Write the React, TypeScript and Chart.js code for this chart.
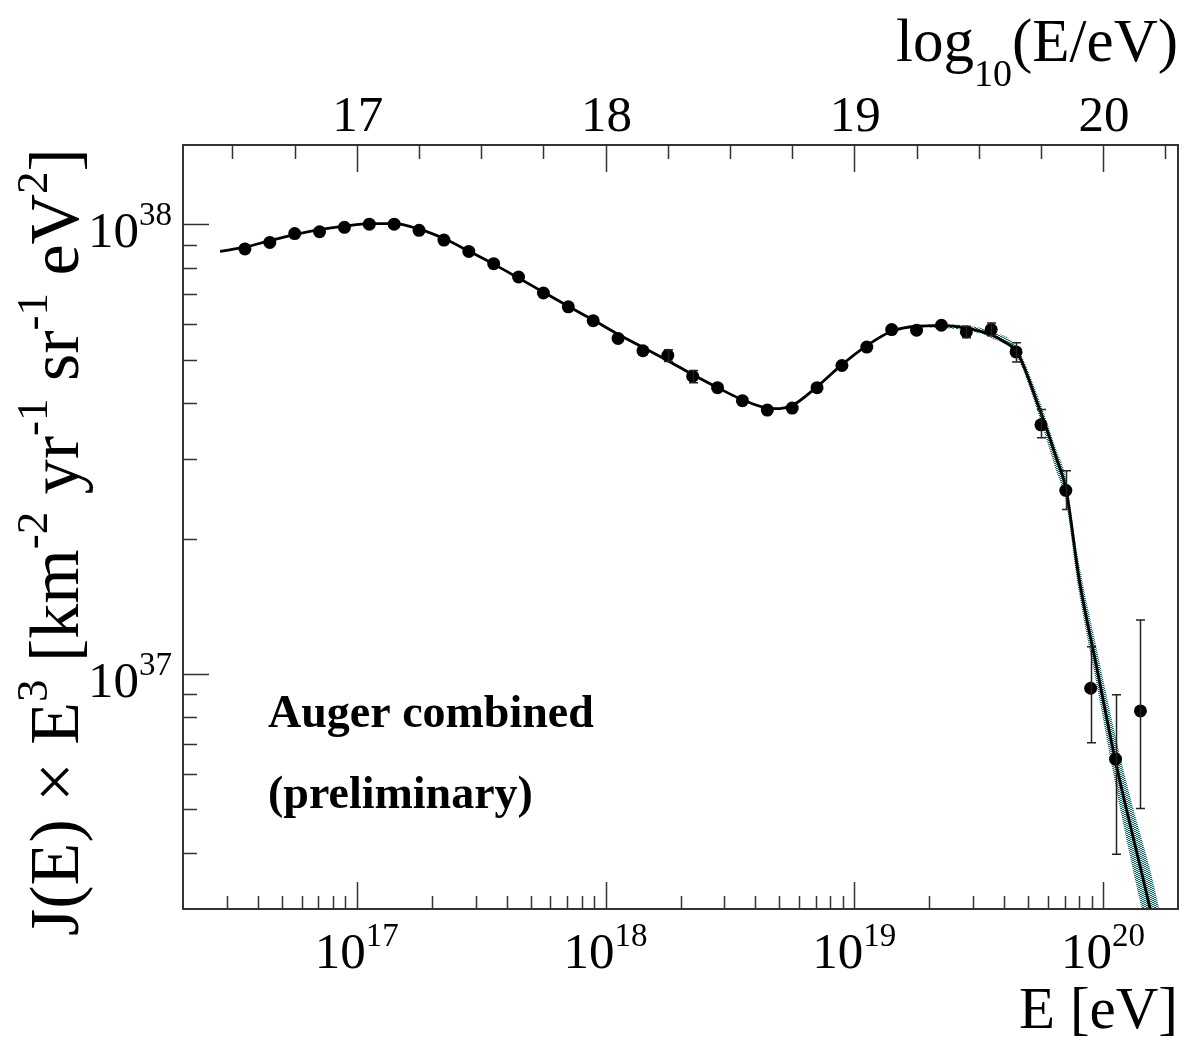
import React, { useEffect, useRef } from "react";
import { Chart, registerables } from "chart.js";

Chart.register(...registerables);

const W = 1189;
const H = 1037;

// ---------------- data ----------------
const binLogE = [
  16.55, 16.65, 16.75, 16.85, 16.95, 17.05, 17.15, 17.25, 17.35, 17.45,
  17.55, 17.65, 17.75, 17.85, 17.95, 18.05, 18.15, 18.25, 18.35, 18.45,
  18.55, 18.65, 18.75, 18.85, 18.95, 19.05, 19.15, 19.25, 19.35, 19.45,
  19.55, 19.65, 19.75, 19.85, 19.95, 20.05, 20.15,
];
const fluxE3 = [
  8.81e37, 9.11e37, 9.53e37, 9.62e37, 9.84e37, 1.0e38, 1.0e38, 9.69e37, 9.22e37, 8.7e37,
  8.17e37, 7.63e37, 7.03e37, 6.55e37, 6.1e37, 5.57e37, 5.23e37, 5.11e37, 4.59e37, 4.33e37,
  4.05e37, 3.86e37, 3.9e37, 4.33e37, 4.85e37, 5.33e37, 5.83e37, 5.81e37, 5.96e37, 5.76e37,
  5.83e37, 5.2e37, 3.58e37, 2.56e37, 9.29e36, 6.46e36, 8.27e36,
];
const errHigh = [
  null, null, null, null, null, null, null, null, null, null,
  null, null, null, null, null, null, null, 5.26e37, 4.73e37, null,
  null, null, null, null, null, null, null, null, null, 5.93e37,
  6.03e37, 5.45e37, 3.87e37, 2.83e37, 1.149e37, 8.99e36, 1.317e37,
];
const errLow = [
  null, null, null, null, null, null, null, null, null, null,
  null, null, null, null, null, null, null, 4.95e37, 4.44e37, null,
  null, null, null, null, null, null, null, null, null, 5.59e37,
  5.65e37, 4.94e37, 3.35e37, 2.32e37, 7.03e36, 3.97e36, 5.02e36,
];

const fitLogE = [
  16.45, 16.55, 16.65, 16.75, 16.85, 16.95, 17.05, 17.15, 17.25, 17.35,
  17.45, 17.55, 17.65, 17.75, 17.85, 17.95, 18.05, 18.15, 18.25, 18.35,
  18.45, 18.55, 18.65, 18.7, 18.75, 18.85, 18.95, 19.05, 19.15, 19.25,
  19.35, 19.45, 19.505, 19.55, 19.6, 19.653, 19.74, 19.814, 19.851, 19.904,
  19.976, 20.048, 20.189, 20.25,
];
const fitFlux = [
  8.7e37, 8.89e37, 9.19e37, 9.48e37, 9.72e37, 9.9e37, 1.003e38, 1.003e38, 9.75e37, 9.29e37,
  8.71e37, 8.15e37, 7.59e37, 7.06e37, 6.57e37, 6.12e37, 5.69e37, 5.32e37, 4.97e37, 4.63e37,
  4.33e37, 4.07e37, 3.9e37, 3.89e37, 3.95e37, 4.35e37, 4.87e37, 5.37e37, 5.78e37, 5.93e37,
  5.95e37, 5.88e37, 5.78e37, 5.68e37, 5.48e37, 5.21e37, 3.94e37, 3.0e37, 2.57e37, 1.62e37,
  1.023e37, 6.46e36, 3.0e36, 2.1e36,
];

const bandLogE = [19.3, 19.45, 19.55, 19.65, 19.74, 19.81, 19.85, 19.9, 19.98, 20.05, 20.12, 20.19, 20.25];
const bandUpper = [6.0e37, 5.95e37, 5.77e37, 5.35e37, 4.11e37, 3.17e37, 2.73e37, 1.8e37, 1.1e37, 7.27e36, 5.05e36, 3.65e36, 2.61e36];
const bandLower = [5.9e37, 5.81e37, 5.59e37, 5.11e37, 3.78e37, 2.84e37, 2.42e37, 1.55e37, 9.08e36, 5.64e36, 3.66e36, 2.47e36, 1.69e36];

const bottomDecades = [16, 17, 18, 19, 20];
const bottomLabelExps = ["17", "18", "19", "20"];
const leftDecades = [36, 37, 38];
const leftLabelExps = ["37", "38"];
const topLabels = ["17", "18", "19", "20"];

const X_MIN = 2e16;
const X_MAX = 2e20;
const Y_MIN = 3e36;
const Y_MAX = 1.5e38;

const SERIF = "'Liberation Serif', 'DejaVu Serif', serif";

type Seg = { t: string; size: number; dy?: number; bold?: boolean };

function segWidth(ctx: CanvasRenderingContext2D, s: Seg) {
  ctx.font = `${s.bold ? "bold " : ""}${s.size}px ${SERIF}`;
  return ctx.measureText(s.t).width;
}

function drawRich(
  ctx: CanvasRenderingContext2D,
  segs: Seg[],
  x: number,
  y: number,
  align: "left" | "center" | "right"
) {
  const widths = segs.map((s) => segWidth(ctx, s));
  const total = widths.reduce((a, b) => a + b, 0);
  let cx = align === "left" ? x : align === "center" ? x - total / 2 : x - total;
  ctx.textAlign = "left";
  ctx.textBaseline = "alphabetic";
  segs.forEach((s, i) => {
    ctx.font = `${s.bold ? "bold " : ""}${s.size}px ${SERIF}`;
    ctx.fillText(s.t, cx, y + (s.dy || 0));
    cx += widths[i];
  });
}

const rootAxes = {
  id: "rootAxes",
  afterDraw(chart: any) {
    const { ctx, chartArea: a, scales } = chart;
    const xs = scales.x;
    const ys = scales.y;
    const xt = scales.xTop;
    ctx.save();
    ctx.fillStyle = "#000";
    ctx.strokeStyle = "#333";

    // ticks
    ctx.lineWidth = 1.5;
    ctx.beginPath();
    for (const d of bottomDecades) {
      for (let m = 1; m <= 9; m++) {
        const v = m * Math.pow(10, d);
        if (v <= X_MIN * 1.0001 || v >= X_MAX * 0.9999) continue;
        const px = Math.round(xs.getPixelForValue(v)) + 0.5;
        const len = m === 1 ? 27 : 13;
        ctx.moveTo(px, a.bottom);
        ctx.lineTo(px, a.bottom - len);
      }
    }
    for (const d of leftDecades) {
      for (let m = 1; m <= 9; m++) {
        const v = m * Math.pow(10, d);
        if (v <= Y_MIN * 1.0001 || v >= Y_MAX * 0.9999) continue;
        const py = Math.round(ys.getPixelForValue(v)) + 0.5;
        const len = m === 1 ? 26 : 14;
        ctx.moveTo(a.left, py);
        ctx.lineTo(a.left + len, py);
      }
    }
    for (let t = 16.5; t <= 20.26; t += 0.25) {
      const px = Math.round(xt.getPixelForValue(t)) + 0.5;
      const major = Math.abs(t - Math.round(t)) < 1e-6;
      const len = major ? 27 : 14;
      ctx.moveTo(px, a.top);
      ctx.lineTo(px, a.top + len);
    }
    ctx.stroke();

    // frame
    ctx.lineWidth = 2;
    ctx.strokeRect(a.left, a.top, a.right - a.left, a.bottom - a.top);

    // bottom labels
    for (const e of bottomLabelExps) {
      const px = xs.getPixelForValue(Math.pow(10, Number(e)));
      drawRich(
        ctx,
        [
          { t: "10", size: 51 },
          { t: e, size: 33, dy: -22 },
        ],
        px,
        a.bottom + 59,
        "center"
      );
    }
    // left labels
    for (const e of leftLabelExps) {
      const py = ys.getPixelForValue(Math.pow(10, Number(e)));
      drawRich(
        ctx,
        [
          { t: "10", size: 51 },
          { t: e, size: 33, dy: -22 },
        ],
        a.left - 11,
        py + 23,
        "right"
      );
    }
    // top labels
    ctx.font = `51px ${SERIF}`;
    ctx.textAlign = "center";
    ctx.textBaseline = "alphabetic";
    for (const l of topLabels) {
      const px = xt.getPixelForValue(Number(l));
      ctx.fillText(l, px + 1, 131);
    }
    // top title
    drawRich(
      ctx,
      [
        { t: "log", size: 61 },
        { t: "10", size: 38, dy: 25 },
        { t: "(E/eV)", size: 61 },
      ],
      a.right,
      61,
      "right"
    );
    // bottom title
    drawRich(ctx, [{ t: "E [eV]", size: 59 }], a.right, 1028, "right");

    // y title
    ctx.save();
    ctx.translate(78, 542);
    ctx.rotate(-Math.PI / 2);
    const F = 70;
    const S = 45;
    const up = -31;
    drawRich(
      ctx,
      [
        { t: "J(E) × E", size: F },
        { t: "3", size: S, dy: up },
        { t: " [km", size: F },
        { t: "-2", size: S, dy: up },
        { t: " yr", size: F },
        { t: "-1", size: S, dy: up },
        { t: " sr", size: F },
        { t: "-1", size: S, dy: up },
        { t: " eV", size: F },
        { t: "2", size: S, dy: up },
        { t: "]", size: F },
      ],
      0,
      0,
      "center"
    );
    ctx.restore();

    // annotation
    drawRich(ctx, [{ t: "Auger combined", size: 46, bold: true }], 268, 727, "left");
    drawRich(ctx, [{ t: "(preliminary)", size: 46, bold: true }], 268, 808, "left");

    ctx.restore();
  },
};

const errorBars = {
  id: "errorBars",
  afterDatasetsDraw(chart: any) {
    const { ctx, scales, chartArea: a } = chart;
    ctx.save();
    ctx.beginPath();
    ctx.rect(a.left, a.top, a.right - a.left, a.bottom - a.top);
    ctx.clip();
    ctx.strokeStyle = "#222";
    ctx.lineWidth = 1.5;
    ctx.beginPath();
    binLogE.forEach((le, i) => {
      const hi = errHigh[i];
      const lo = errLow[i];
      if (hi == null || lo == null) return;
      const px = Math.round(scales.x.getPixelForValue(Math.pow(10, le))) + 0.5;
      const y1 = scales.y.getPixelForValue(hi);
      const y2 = scales.y.getPixelForValue(lo);
      ctx.moveTo(px, y1);
      ctx.lineTo(px, y2);
      ctx.moveTo(px - 4.5, y1);
      ctx.lineTo(px + 4.5, y1);
      ctx.moveTo(px - 4.5, y2);
      ctx.lineTo(px + 4.5, y2);
    });
    ctx.stroke();
    ctx.restore();
  },
};

export default function App() {
  const ref = useRef<HTMLCanvasElement | null>(null);

  useEffect(() => {
    const canvas = ref.current;
    if (!canvas) return;

    const pc = document.createElement("canvas");
    pc.width = 4;
    pc.height = 4;
    const pctx = pc.getContext("2d")!;
    pctx.fillStyle = "rgba(190,225,225,0.6)";
    pctx.fillRect(0, 0, 4, 4);
    pctx.fillStyle = "rgba(35,100,100,1)";
    pctx.fillRect(0, 0, 1, 1);
    pctx.fillRect(1, 0, 1, 1);
    pctx.fillRect(2, 1, 1, 1);
    pctx.fillRect(3, 1, 1, 1);
    pctx.fillRect(0, 2, 1, 1);
    pctx.fillRect(1, 2, 1, 1);
    pctx.fillRect(2, 3, 1, 1);
    pctx.fillRect(3, 3, 1, 1);
    const ctx2 = canvas.getContext("2d")!;
    const pattern = ctx2.createPattern(pc, "repeat") || "rgba(40,110,110,0.6)";

    const points = binLogE.map((le, i) => ({ x: Math.pow(10, le), y: fluxE3[i] }));
    const fit = fitLogE.map((le, i) => ({ x: Math.pow(10, le), y: fitFlux[i] }));
    const up = bandLogE.map((le, i) => ({ x: Math.pow(10, le), y: bandUpper[i] }));
    const lo = bandLogE.map((le, i) => ({ x: Math.pow(10, le), y: bandLower[i] }));

    const chart = new Chart(canvas, {
      type: "scatter",
      data: {
        datasets: [
          {
            type: "scatter",
            label: "Auger combined",
            data: points,
            pointRadius: 6.5,
            pointBackgroundColor: "#000",
            pointBorderColor: "#000",
            pointBorderWidth: 0,
            showLine: false,
          } as any,
          {
            type: "line",
            label: "fit",
            data: fit,
            borderColor: "#000",
            borderWidth: 2.8,
            pointRadius: 0,
            cubicInterpolationMode: "monotone",
            fill: false,
          } as any,
          {
            type: "line",
            label: "band upper",
            data: up,
            borderWidth: 0,
            borderColor: "rgba(0,0,0,0)",
            pointRadius: 0,
            cubicInterpolationMode: "monotone",
            fill: "+1",
            backgroundColor: pattern,
          } as any,
          {
            type: "line",
            label: "band lower",
            data: lo,
            borderWidth: 0,
            borderColor: "rgba(0,0,0,0)",
            pointRadius: 0,
            cubicInterpolationMode: "monotone",
            fill: false,
          } as any,
        ],
      },
      options: {
        responsive: false,
        animation: false,
        devicePixelRatio: 1,
        layout: { padding: { left: 183, top: 145, right: 11, bottom: 128 } },
        plugins: { legend: { display: false }, tooltip: { enabled: false } },
        scales: {
          x: { type: "logarithmic", min: X_MIN, max: X_MAX, display: false },
          y: { type: "logarithmic", min: Y_MIN, max: Y_MAX, display: false },
          xTop: {
            type: "linear",
            position: "top",
            min: Math.log10(X_MIN),
            max: Math.log10(X_MAX),
            display: false,
          },
        },
      } as any,
      plugins: [errorBars, rootAxes],
    });

    return () => chart.destroy();
  }, []);

  return (
    <div style={{ position: "fixed", left: 0, top: 0, width: W, height: H, background: "#fff" }}>
      <canvas ref={ref} width={W} height={H} style={{ display: "block" }} />
    </div>
  );
}
